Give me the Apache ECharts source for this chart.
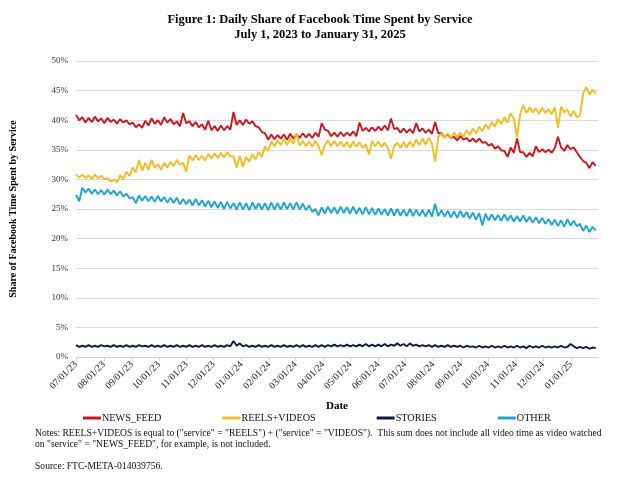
<!DOCTYPE html>
<html>
<head>
<meta charset="utf-8">
<title>Daily Share of Facebook Time Spent by Service</title>
<script src="https://cdn.jsdelivr.net/npm/echarts@6/dist/echarts.min.js"></script>
<style>
  html, body { margin: 0; padding: 0; background: #fff; }
  #main { width: 640px; height: 503px; }
</style>
</head>
<body>
<div id="main"></div>
<script>
// one value every 3.5 days from 07/01/23 (weekly high / low pairs)
var sampleStep = 3.5;

var newsFeed = [
    40.9, 40.0, 40.5, 39.6, 40.4, 39.7, 40.6, 39.8, 40.3, 39.5, 40.4, 39.7, 40.1, 39.4, 40.2, 39.6,
    40.0, 39.3, 39.6, 38.8, 39.3, 38.7, 39.9, 39.1, 40.3, 39.4, 40.0, 39.2, 40.5, 39.6, 40.2, 39.3,
    39.8, 39.0, 41.2, 39.5, 39.8, 39.0, 39.7, 38.8, 39.3, 38.4, 39.9, 38.3, 39.0, 38.2, 39.1, 38.3,
    39.0, 38.4, 41.4, 39.2, 40.0, 39.2, 40.1, 39.4, 39.8, 39.0, 38.8, 38.0, 37.8, 36.7, 37.6, 36.8,
    37.5, 36.9, 37.6, 36.7, 37.7, 36.9, 37.6, 37.0, 37.8, 37.1, 37.7, 37.0, 37.9, 37.2, 39.5, 38.4,
    38.2, 37.3, 37.9, 37.2, 38.0, 37.3, 37.9, 37.4, 38.1, 37.3, 39.6, 38.2, 38.7, 38.1, 38.8, 38.2,
    38.9, 38.3, 39.1, 38.3, 40.3, 38.5, 38.7, 37.9, 38.6, 37.9, 38.5, 37.8, 39.5, 38.1, 38.6, 37.9,
    38.4, 37.7, 39.7, 37.8, 37.8, 37.1, 37.6, 37.0, 37.2, 36.6, 37.3, 36.7, 37.0, 36.4, 36.9, 36.3,
    36.9, 36.2, 36.3, 35.7, 36.0, 35.2, 35.6, 34.9, 34.8, 33.8, 35.4, 34.5, 36.9, 34.6, 34.6, 33.8,
    34.5, 33.9, 35.6, 34.6, 35.1, 34.6, 35.0, 34.5, 35.3, 37.2, 35.4, 34.8, 35.8, 35.1, 35.4, 34.6,
    33.8, 33.1, 32.8, 31.9, 32.9, 32.3
];

var reelsVideos = [
    30.9, 30.3, 30.8, 30.2, 30.7, 30.1, 30.8, 30.2, 30.6, 30.0, 30.2, 29.6, 30.0, 29.5, 30.7, 30.0,
    31.3, 30.6, 32.0, 31.2, 33.3, 31.5, 32.8, 31.6, 33.3, 32.0, 32.6, 31.6, 32.8, 32.0, 33.0, 32.2,
    33.3, 32.5, 32.8, 31.3, 34.0, 33.2, 34.1, 33.3, 34.0, 33.2, 34.3, 33.5, 34.4, 33.6, 34.5, 33.7,
    34.6, 33.9, 33.9, 32.0, 34.0, 32.1, 33.8, 33.0, 34.2, 33.4, 34.6, 33.8, 35.6, 34.8, 36.4, 35.6,
    36.6, 35.8, 36.8, 35.8, 37.0, 36.0, 37.8, 35.7, 36.5, 35.6, 36.4, 35.5, 36.5, 35.6, 34.1, 35.8,
    36.6, 35.6, 36.5, 35.6, 36.4, 35.5, 36.3, 35.4, 36.4, 35.5, 36.3, 35.3, 35.9, 34.2, 36.5, 35.6,
    36.4, 35.5, 36.2, 35.3, 33.5, 35.6, 36.2, 35.3, 36.3, 35.4, 36.4, 35.5, 36.8, 35.8, 36.9, 35.9,
    37.0, 36.0, 33.0, 37.2, 37.7, 37.0, 37.8, 37.0, 37.9, 37.1, 37.9, 37.2, 38.3, 37.5, 38.6, 37.8,
    38.9, 38.1, 39.3, 38.5, 39.7, 38.9, 40.2, 39.3, 40.5, 39.6, 41.2, 40.2, 37.2, 41.0, 42.6, 41.2,
    42.2, 41.3, 42.0, 41.1, 42.1, 41.2, 41.9, 41.0, 42.2, 38.7, 42.3, 41.3, 41.8, 40.6, 41.6, 40.5,
    40.8, 44.5, 45.6, 44.3, 45.2, 44.4
];

var stories = [
    2.0, 1.7, 1.9, 1.7, 2.0, 1.7, 1.9, 1.7, 2.0, 1.8, 1.9, 1.7, 2.0, 1.7, 1.9, 1.7,
    2.0, 1.7, 1.9, 1.7, 2.0, 1.8, 1.9, 1.7, 2.0, 1.7, 1.9, 1.7, 2.0, 1.7, 1.9, 1.7,
    2.0, 1.7, 1.9, 1.7, 2.0, 1.7, 1.9, 1.7, 2.0, 1.7, 1.9, 1.7, 2.0, 1.7, 1.9, 1.7,
    2.0, 1.8, 2.7, 1.9, 2.3, 1.8, 2.0, 1.7, 1.9, 1.7, 2.0, 1.7, 1.9, 1.7, 2.0, 1.7,
    1.9, 1.7, 2.0, 1.7, 1.9, 1.7, 2.0, 1.7, 2.0, 1.7, 1.9, 1.7, 2.0, 1.7, 2.0, 1.7,
    2.0, 1.8, 2.1, 1.8, 2.0, 1.8, 2.1, 1.8, 2.0, 1.8, 2.1, 1.8, 2.2, 1.8, 2.1, 1.8,
    2.1, 1.8, 2.2, 1.8, 2.1, 1.9, 2.3, 1.9, 2.2, 1.8, 2.3, 1.9, 2.1, 1.8, 2.0, 1.8,
    2.0, 1.7, 2.0, 1.7, 1.9, 1.7, 2.0, 1.7, 1.9, 1.7, 1.9, 1.6, 1.9, 1.7, 1.8, 1.6,
    1.9, 1.6, 1.8, 1.6, 1.9, 1.6, 1.8, 1.6, 1.9, 1.6, 1.8, 1.6, 1.9, 1.6, 1.8, 1.5,
    1.9, 1.6, 1.8, 1.6, 1.9, 1.6, 1.8, 1.6, 1.8, 1.6, 1.9, 1.6, 1.7, 2.2, 1.8, 1.5,
    1.7, 1.5, 1.7, 1.4, 1.6, 1.5
];

var other = [
    27.4, 26.3, 28.6, 27.8, 28.4, 27.6, 28.3, 27.5, 28.2, 27.4, 28.3, 27.5, 28.1, 27.3, 28.0, 27.1,
    27.6, 26.8, 27.0, 26.0, 27.3, 26.4, 27.2, 26.3, 27.1, 26.2, 27.2, 26.3, 27.0, 26.1, 26.9, 26.0,
    26.9, 25.8, 26.7, 25.8, 26.6, 25.6, 26.7, 25.6, 26.5, 25.4, 26.4, 25.3, 26.3, 25.2, 26.2, 25.0,
    26.2, 25.1, 26.0, 24.9, 26.1, 24.9, 26.0, 24.8, 26.1, 25.0, 26.0, 24.9, 26.0, 24.8, 26.1, 24.9,
    26.0, 24.9, 26.1, 25.0, 26.0, 24.9, 26.1, 24.9, 25.9, 24.8, 25.6, 24.5, 25.0, 23.9, 25.3, 24.2,
    25.4, 24.3, 25.3, 24.2, 25.4, 24.3, 25.3, 24.2, 25.4, 24.2, 25.2, 24.1, 25.3, 24.1, 25.2, 24.0,
    25.1, 24.0, 25.0, 23.9, 25.1, 23.9, 25.0, 23.9, 24.9, 23.8, 25.0, 23.8, 24.9, 23.8, 24.8, 23.7,
    24.9, 23.7, 25.9, 23.8, 24.8, 23.7, 24.7, 23.6, 24.6, 23.5, 24.7, 23.6, 24.5, 23.4, 24.4, 23.2,
    24.3, 22.2, 24.2, 23.1, 24.1, 23.1, 24.0, 23.0, 24.1, 23.0, 23.9, 22.9, 23.8, 22.9, 23.9, 22.8,
    23.7, 22.7, 23.6, 22.6, 23.5, 22.5, 23.3, 22.3, 23.2, 22.1, 23.1, 22.0, 23.3, 22.2, 23.0, 22.1,
    22.5, 21.3, 22.2, 21.1, 22.0, 21.4
];

// x axis: days since 07/01/23, ticks on the first of every month
var monthDays = [0, 31, 62, 92, 123, 153, 184, 215, 244, 275, 305, 336, 366, 397, 428, 458, 489, 519, 550];
var monthLabels = ['07/01/23', '08/01/23', '09/01/23', '10/01/23', '11/01/23', '12/01/23',
    '01/01/24', '02/01/24', '03/01/24', '04/01/24', '05/01/24', '06/01/24', '07/01/24',
    '08/01/24', '09/01/24', '10/01/24', '11/01/24', '12/01/24', '01/01/25'];
var lastDay = 580;

var seriesNames = ['NEWS_FEED', 'REELS+VIDEOS', 'STORIES', 'OTHER'];
var seriesColors = ['#D0141C', '#F2BD1D', '#0E1B45', '#1EA5D8'];
var seriesValues = [newsFeed, reelsVideos, stories, other];

var serif = '"Liberation Serif", "Times New Roman", serif';

function toPoints(values) {
    return values.map(function (v, i) { return [i * sampleStep, v]; });
}

var myChart = echarts.init(document.getElementById('main'), null, { renderer: 'canvas' });

var titleFont = { fontFamily: serif, fontWeight: 'bold', fontSize: 12.5, color: '#000' };
var noteFont = { fontFamily: serif, fontWeight: 'normal', fontSize: 9.6, lineHeight: 11, color: '#111' };

var option = {
    backgroundColor: '#fff',
    animation: false,
    title: [
        { text: 'Figure 1: Daily Share of Facebook Time Spent by Service', left: 'center', top: 8, textStyle: titleFont },
        { text: 'July 1, 2023 to January 31, 2025', left: 'center', top: 23, textStyle: titleFont },
        {
            text: 'Notes: REELS+VIDEOS is equal to ("service" = "REELS") + ("service" = "VIDEOS").  This sum does not include all video time as video watched\non "service" = "NEWS_FEED", for example, is not included.',
            left: 30,
            top: 423,
            textStyle: noteFont
        },
        { text: 'Source: FTC-META-014039756.', left: 30, top: 456, textStyle: noteFont }
    ],
    legend: {
        data: seriesNames,
        left: 78,
        top: 408,
        itemGap: 61,
        itemWidth: 18,
        itemHeight: 3,
        icon: 'rect',
        textStyle: { fontFamily: serif, fontSize: 10.2, color: '#111', padding: [0, 0, 0, -4] }
    },
    grid: {
        left: 73,
        right: 42,
        top: 61,
        bottom: 146,
        containLabel: false
    },
    xAxis: {
        type: 'value',
        min: 0,
        max: lastDay,
        name: 'Date',
        nameLocation: 'middle',
        nameGap: 44,
        nameTextStyle: { fontFamily: serif, fontWeight: 'bold', fontSize: 11, color: '#000' },
        axisLine: { show: true, lineStyle: { color: '#d0d0d0', width: 1 } },
        axisTick: { show: true, customValues: monthDays, length: 4, lineStyle: { color: '#d0d0d0' } },
        axisLabel: {
            customValues: monthDays,
            rotate: 45,
            margin: 6,
            fontFamily: serif,
            fontSize: 9.8,
            color: '#222',
            formatter: function (v) {
                var k = monthDays.indexOf(Math.round(v));
                return k >= 0 ? monthLabels[k] : '';
            }
        },
        splitLine: { show: false }
    },
    yAxis: {
        type: 'value',
        min: 0,
        max: 50,
        interval: 5,
        name: 'Share of Facebook Time Spent by Service',
        nameLocation: 'middle',
        nameGap: 58,
        nameTextStyle: { fontFamily: serif, fontWeight: 'bold', fontSize: 10, color: '#000' },
        axisLine: { show: false },
        axisTick: { show: false },
        axisLabel: { formatter: '{value}%', fontFamily: serif, fontSize: 9, color: '#333', margin: 8 },
        splitLine: { lineStyle: { color: '#d9d9d9', width: 1 } }
    },
    series: seriesNames.map(function (name, k) {
        return {
            name: name,
            type: 'line',
            data: toPoints(seriesValues[k]),
            symbol: 'none',
            color: seriesColors[k],
            lineStyle: { width: 1.9, color: seriesColors[k] }
        };
    })
};

myChart.setOption(option);
</script>
</body>
</html>
